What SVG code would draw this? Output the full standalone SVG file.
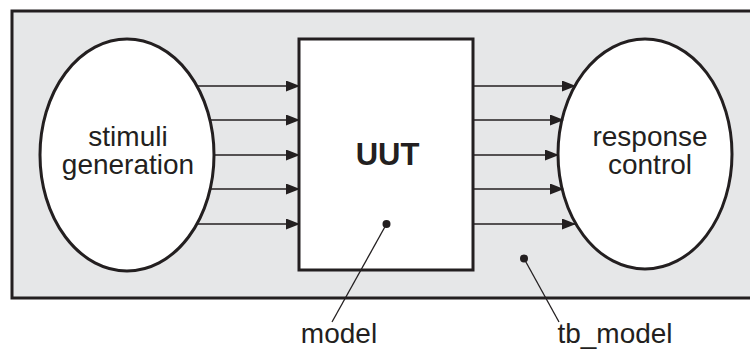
<svg xmlns="http://www.w3.org/2000/svg" width="750" height="356" viewBox="0 0 750 356">
<style>
.lbl{font-family:"Liberation Sans",Arial,sans-serif;font-size:28px;fill:#231f20;text-anchor:middle}
.bold{font-weight:bold;font-size:31px}
.shape{fill:#fff;stroke:#231f20;stroke-width:3}
.arr{stroke:#231f20;stroke-width:1.5;fill:none;marker-end:url(#ah)}
.ptr{stroke:#231f20;stroke-width:1.3;fill:none}
.dot{fill:#231f20}
</style>
<defs>
<marker id="ah" markerWidth="14" markerHeight="11" refX="13" refY="5.5" orient="auto" markerUnits="userSpaceOnUse">
<path d="M0,0 L14,5.5 L0,11 Z" fill="#231f20"/>
</marker>
</defs>
<g id="tb_model">
<rect x="12" y="11" width="742" height="287" fill="#e6e7e8" stroke="#231f20" stroke-width="3"/>
<circle class="dot" cx="524" cy="258.5" r="4"/>
</g>
<g id="stimuli">
<ellipse class="shape" cx="127" cy="155" rx="87" ry="116"/>
<text class="lbl"><tspan x="128" y="146">stimuli</tspan><tspan x="128" y="174">generation</tspan></text>
</g>
<g id="uut">
<rect class="shape" x="299" y="39" width="174" height="231"/>
<text class="lbl bold" x="387.5" y="165">UUT</text>
<circle class="dot" cx="386.5" cy="224" r="4"/>
</g>
<g id="response">
<ellipse class="shape" cx="645" cy="154" rx="87" ry="115"/>
<text class="lbl"><tspan x="650" y="146">response</tspan><tspan x="650" y="174">control</tspan></text>
</g>
<g id="connectors">
<line class="arr" x1="197" y1="86" x2="299" y2="86"/>
<line class="arr" x1="210" y1="120" x2="299" y2="120"/>
<line class="arr" x1="214" y1="155" x2="299" y2="155"/>
<line class="arr" x1="210" y1="189" x2="299" y2="189"/>
<line class="arr" x1="197" y1="224" x2="299" y2="224"/>
<line class="arr" x1="473" y1="86" x2="575" y2="86"/>
<line class="arr" x1="473" y1="120" x2="563" y2="120"/>
<line class="arr" x1="473" y1="155" x2="558" y2="155"/>
<line class="arr" x1="473" y1="189" x2="563" y2="189"/>
<line class="arr" x1="473" y1="224" x2="575" y2="224"/>
<line class="ptr" x1="386.5" y1="224" x2="332" y2="322"/>
<line class="ptr" x1="524" y1="258.5" x2="559" y2="322"/>
</g>
<g id="labels">
<text class="lbl" x="339" y="343">model</text>
<text class="lbl" x="615" y="343">tb_model</text>
</g>
</svg>
